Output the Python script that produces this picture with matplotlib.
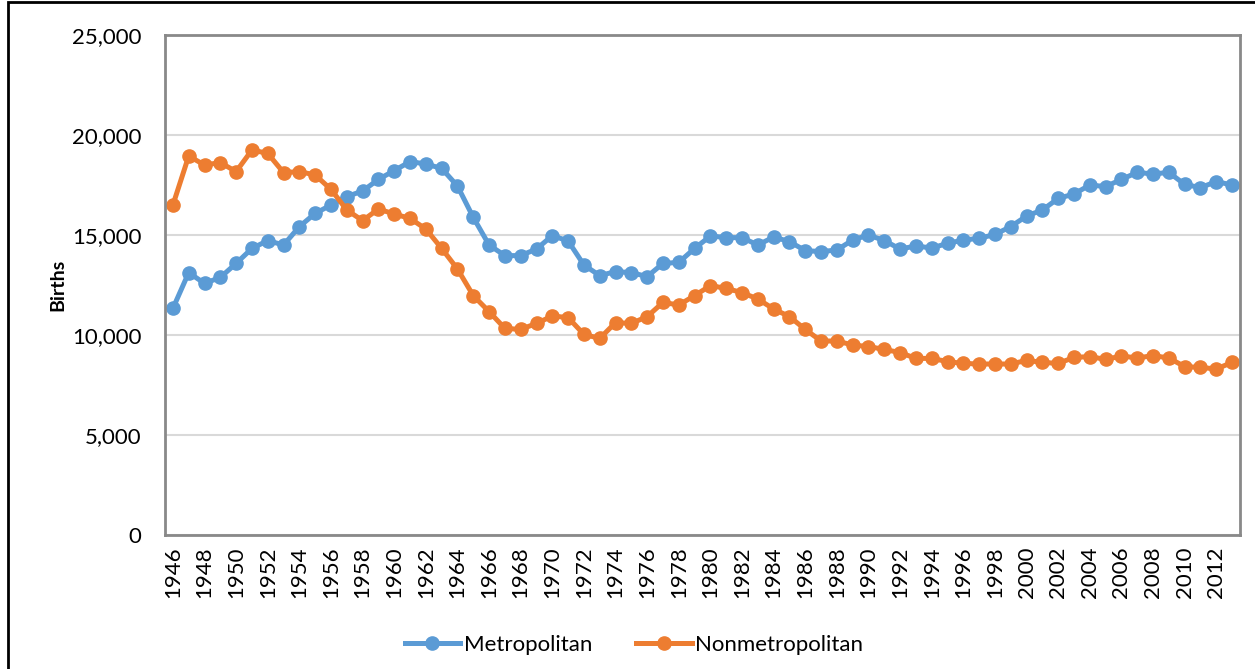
import matplotlib
matplotlib.use("Agg")
import matplotlib.pyplot as plt
from matplotlib.ticker import FuncFormatter
from matplotlib.patches import Rectangle

plt.rcParams['font.family'] = ['Lato', 'DejaVu Sans']

# data
years = list(range(1946, 2014))

metro = [11330, 13120, 12580, 12880, 13580, 14330, 14720, 14500, 15420, 16080,
         16500, 16920, 17200, 17780, 18220, 18670, 18550, 18330, 17450, 15880,
         14500, 13970, 13970, 14300, 14970, 14700, 13500, 12970, 13170, 13120,
         12920, 13580, 13630, 14330, 14950, 14870, 14870, 14500, 14900, 14670,
         14220, 14170, 14250, 14750, 15000, 14720, 14300, 14450, 14350, 14580,
         14750, 14830, 15030, 15420, 15950, 16250, 16830, 17050, 17500, 17420,
         17780, 18130, 18050, 18130, 17530, 17370, 17670, 17500]

nonmetro = [16500, 18950, 18500, 18620, 18170, 19250, 19080, 18120, 18170, 18000,
            17280, 16250, 15720, 16300, 16050, 15830, 15300, 14330, 13300, 11970,
            11170, 10330, 10280, 10580, 10950, 10870, 10030, 9830, 10620, 10580,
            10920, 11630, 11500, 11970, 12470, 12330, 12120, 11800, 11300, 10920,
            10280, 9700, 9700, 9500, 9420, 9280, 9120, 8830, 8830, 8670,
            8580, 8550, 8550, 8550, 8730, 8630, 8580, 8880, 8920, 8780,
            8950, 8850, 8970, 8850, 8420, 8380, 8300, 8630]

tick_years = years[::2]

blue = '#5B9BD5'
orange = '#ED7D31'

fig = plt.figure(figsize=(12.55, 6.69), dpi=100)
ax = fig.add_axes([165/1255, 1 - 535/669, (1240 - 165)/1255, 500/669])

x = list(range(len(years)))
ax.plot(x, metro, color=blue, lw=3.6, marker='o', ms=9.5, label='Metropolitan')
ax.plot(x, nonmetro, color=orange, lw=3.6, marker='o', ms=9.5, label='Nonmetropolitan')

ax.set_xlim(-0.5, len(years) - 0.5)
ax.set_ylim(0, 25000)
ax.set_yticks(range(0, 25001, 5000))
ax.yaxis.set_major_formatter(FuncFormatter(lambda v, p: f"{int(v):,}"))
ax.set_xticks([years.index(y) for y in tick_years])
ax.set_xticklabels([str(y) for y in tick_years], rotation=90)
ax.tick_params(axis='both', length=0, labelsize=16, colors='black')
ax.tick_params(axis='y', pad=17)
ax.tick_params(axis='x', pad=8)

ax.grid(axis='y', color='#d9d9d9', lw=1.5)
ax.set_axisbelow(True)
for s in ax.spines.values():
    s.set_color('#898989')
    s.set_linewidth(2)

ax.set_ylabel('Births', fontsize=14, fontweight='bold', labelpad=4)

fig.legend(loc='center', bbox_to_anchor=(634/1255, 1 - 645/669), ncol=2,
           frameon=False, fontsize=16, handlelength=2.5, columnspacing=2.0,
           handletextpad=0.15)

# outer chart border
fig.patches.append(Rectangle((8/1255, -0.1), 1.2, 1 - 2/669 + 0.1,
                             transform=fig.transFigure, fill=False,
                             edgecolor='black', lw=2))

fig.savefig('out.png', dpi=100)
